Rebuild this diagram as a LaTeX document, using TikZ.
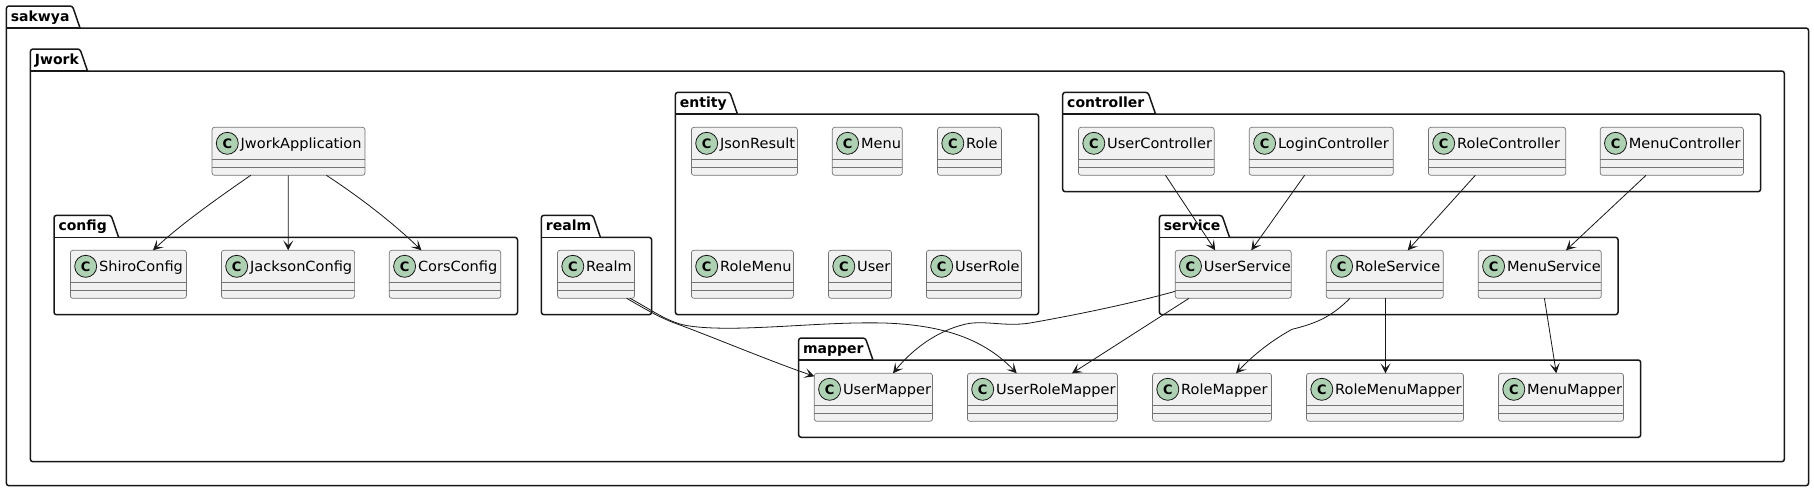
\documentclass[tikz,border=0pt]{standalone}
\usepackage{fontspec}
\setmainfont{DejaVu Sans}
\newfontfamily\clsfont[FakeStretch=1.04]{DejaVu Sans}
\usetikzlibrary{arrows.meta}
\definecolor{ink}{HTML}{181818}
\definecolor{boxfill}{HTML}{F1F1F1}
\definecolor{spot}{HTML}{ADD1B2}
\tikzset{
  frame/.style={draw=ink,line width=1.5pt,line join=round},
  pkgtitle/.style={anchor=base west,inner sep=0pt,outer sep=0pt,text=black,font=\fontsize{14}{16}\selectfont\bfseries},
  classbox/.style={draw=ink!60,line width=0.7pt,fill=boxfill,rounded corners=2.5pt,anchor=north west,minimum height=48pt,inner sep=0pt,outer sep=0pt},
  classname/.style={anchor=base west,inner sep=0pt,outer sep=0pt,text=black,font=\clsfont\fontsize{14}{16}\selectfont},
  spotc/.style={circle,draw=ink,line width=0.8pt,fill=spot,minimum size=22pt,inner sep=0pt,outer sep=0pt,text=black,font=\fontsize{13}{14}\selectfont\bfseries},
  divider/.style={draw=ink!60,line width=0.7pt},
  conn/.style={draw=ink,line width=0.8pt,-{Stealth[length=10pt,width=10pt,inset=5pt]}},
}
% name, title, left, tabtop, tabright, bodytop, right, bottom
\newcommand{\pkgbox}[8]{%
  \draw[frame,fill=white] (#3,#6) [rounded corners=2.5pt] -- (#3,#4) -- ({#5-7.5},#4) [sharp corners] -- (#5,#6) [rounded corners=2.5pt] -- (#7,#6) -- (#7,#8) -- (#3,#8) [sharp corners] -- cycle;
  \draw[frame] (#3,#6) -- (#5,#6);
  \node[pkgtitle] (#1) at ({#3+4.5},{#4+15.5}) {#2};
}
% name, text, x, y, width
\newcommand{\clsbox}[5]{%
  \node[classbox,minimum width=#5pt] (#1) at (#3,#4) {};
  \draw[divider] ([yshift=-32pt]#1.north west) -- ([yshift=-32pt]#1.north east);
  \draw[divider] ([yshift=-40pt]#1.north west) -- ([yshift=-40pt]#1.north east);
  \node[spotc] (#1-c) at ({#3+15.3},{#4+16}) {C};
  \node[classname] (#1-t) at ({#3+28.7},{#4+21}) {#2};
}
\begin{document}
\begin{tikzpicture}[x=1pt,y=-1pt]
\useasboundingbox[fill=white] (0,0) rectangle (1814,491);
\pkgbox{psakwya}{sakwya}{6.4}{6}{80}{28}{1808.5}{485.7}
\pkgbox{pjwork}{Jwork}{30.4}{49}{87.5}{71}{1784.3}{461.7}
\pkgbox{pconfig}{config}{54}{215.3}{118.6}{237.3}{517.5}{314.7}
\pkgbox{prealm}{realm}{541.4}{215.3}{600.4}{237.3}{651.6}{314.7}
\pkgbox{pentity}{entity}{675.4}{92.3}{737.4}{114}{1038.6}{314.7}
\pkgbox{pcontroller}{controller}{1062.7}{92.3}{1155.5}{114}{1760.6}{191.7}
\pkgbox{pservice}{service}{1159.4}{215.3}{1229.5}{237.3}{1618}{314.7}
\pkgbox{pmapper}{mapper}{798.6}{338}{872.9}{360}{1640.7}{437.3}

\clsbox{ja}{JworkApplication}{212}{127.3}{153}
\clsbox{shiro}{ShiroConfig}{70.4}{250.3}{116}
\clsbox{jackson}{JacksonConfig}{221.4}{250.3}{133.2}
\clsbox{cors}{CorsConfig}{389.3}{250.3}{111.4}
\clsbox{realm}{Realm}{557.5}{250.3}{77}
\clsbox{json}{JsonResult}{691.4}{127.3}{106}
\clsbox{menu}{Menu}{832.3}{127.3}{70}
\clsbox{role}{Role}{937.5}{127.3}{64}
\clsbox{rolemenu}{RoleMenu}{691.4}{250.3}{102}
\clsbox{user}{User}{828.5}{250.3}{63}
\clsbox{userrole}{UserRole}{926.4}{250.3}{95}
\clsbox{uc}{UserController}{1078.5}{127.3}{135.7}
\clsbox{lc}{LoginController}{1249.3}{127.3}{144}
\clsbox{rc}{RoleController}{1428.4}{127.3}{137.3}
\clsbox{mc}{MenuController}{1600.2}{127.3}{143.2}
\clsbox{us}{UserService}{1175.2}{250.3}{116}
\clsbox{rs}{RoleService}{1326.3}{250.3}{117}
\clsbox{ms}{MenuService}{1478.3}{250.3}{123}
\clsbox{um}{UserMapper}{814.3}{373.3}{118.2}
\clsbox{urm}{UserRoleMapper}{967.4}{373.3}{150}
\clsbox{rm}{RoleMapper}{1152.5}{373.3}{119}
\clsbox{rmm}{RoleMenuMapper}{1306.5}{373.3}{157}
\clsbox{mm}{MenuMapper}{1498.5}{373.3}{125}

\draw[conn] ([xshift=38.7pt]ja.south west) .. controls (215,200) and (180,225) .. ([xshift=82.6pt]shiro.north west);
\draw[conn] ([xshift=76.3pt]ja.south west) -- ([xshift=66.8pt]jackson.north west);
\draw[conn] ([xshift=114.4pt]ja.south west) .. controls (355,194) and (390,220) .. ([xshift=32.1pt]cors.north west);

\draw[conn] ([xshift=69.2pt]realm.south west) .. controls (645,309) and (662,319) .. (680,325) .. controls (720,340) and (770,361) .. ([yshift=-3pt]um.north west);
\draw[conn] ([xshift=72.5pt]realm.south west) .. controls (648,308) and (662,318) .. (677,323) .. controls (690,328) and (720,329) .. (753,327.7) .. controls (800,326) and (840,322) .. (884,323) .. controls (945,325) and (985,340) .. ([xshift=49.3pt]urm.north west);

\draw[conn] ([xshift=87pt]uc.south west) -- ([xshift=40pt]us.north west);
\draw[conn] ([xshift=55.3pt]lc.south west) -- ([xshift=76.1pt]us.north west);
\draw[conn] ([xshift=46.9pt]rc.south west) -- ([xshift=81.4pt]rs.north west);
\draw[conn] ([xshift=45.8pt]mc.south west) -- ([xshift=87.7pt]ms.north west);

\draw[conn] ([yshift=-41pt]us.north west) .. controls (1130,304) and (1070,316) .. (1030,323) .. controls (1005,327) and (985,320) .. (966,324) .. controls (935,331) and (910,352) .. ([xshift=78.7pt]um.north west);
\draw[conn] ([xshift=13.8pt]us.south west) -- ([xshift=104.6pt]urm.north west);
\draw[conn] ([xshift=23.7pt]rs.south west) .. controls (1332,316) and (1318,323) .. (1292,329.3) .. controls (1278,337) and (1258,350) .. ([xshift=83.5pt]rm.north west);
\draw[conn] ([xshift=59.2pt]rs.south west) -- ([xshift=79pt]rmm.north west);
\draw[conn] ([xshift=66.1pt]ms.south west) -- ([xshift=57.8pt]mm.north west);
\end{tikzpicture}
\end{document}
